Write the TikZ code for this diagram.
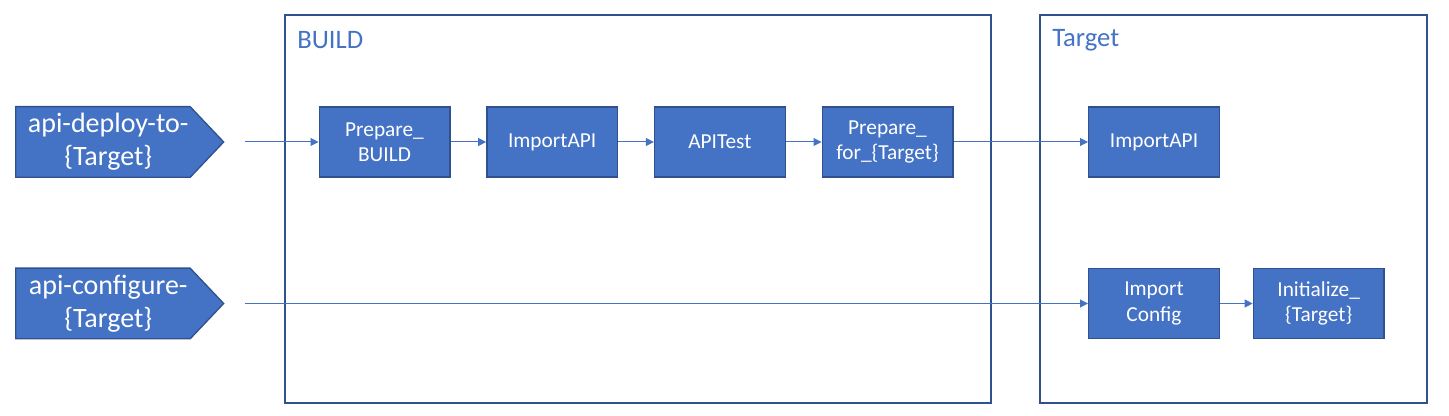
\documentclass[tikz,border=0pt]{standalone}
\usepackage{fontspec}
\setmainfont{Carlito}
\usetikzlibrary{arrows.meta,positioning,shapes.symbols}
\definecolor{boxblue}{HTML}{4472C4}
\definecolor{edgeblue}{HTML}{2F528F}

\begin{document}
\begin{tikzpicture}[x=0.75pt,y=-0.75pt,node distance=26.75pt,
task/.style={draw=edgeblue,fill=boxblue,line width=1pt,text=white,minimum width=98pt,minimum height=52.5pt,align=center,inner sep=0pt,font=\fontsize{16}{19}\selectfont},
trigger/.style={signal,signal to=east,signal pointer angle=93,draw=edgeblue,fill=boxblue,line width=1pt,text=white,minimum width=156pt,minimum height=53pt,align=center,inner sep=0pt,font=\fontsize{21}{24.5}\selectfont},
stage/.style={draw=edgeblue,line width=1.5pt},
title/.style={text=boxblue,anchor=west,inner sep=0pt,font=\fontsize{20}{24}\selectfont},
arrow/.style={-{Triangle[length=6pt,width=6pt]},draw=boxblue,line width=0.75pt}]
\useasboundingbox (0,0) rectangle (1449,416);
\draw[stage] (285,15) rectangle (991,403);
\draw[stage] (1040,15) rectangle (1427,403);
\node[title] (build) at (297,40) {BUILD};
\node[title] (target) at (1052,40) {Target};
\node[trigger,anchor=west] (deploy) at (15,142) {\hspace*{8pt}api-deploy-to-\\\hspace*{8pt}\{Target\}};
\node[trigger,anchor=west] (configure) at (15,303.5) {\hspace*{8pt}api-configure-\\\hspace*{8pt}\{Target\}};
\node[task] (prep) at (384.5,142) {Prepare\_\\BUILD};
\node[task,right=of prep] (imp) {ImportAPI};
\node[task,right=of imp] (test) {APITest};
\node[task,right=of test] (prepfor) {Prepare\_\\for\_\{Target\}};
\node[task] (timp) at (1154,142) {ImportAPI};
\node[task] (tcfg) at (1154,303.5) {Import\\Config};
\node[task,right=24.5pt of tcfg] (tinit) {Initialize\_\\\{Target\}};
\draw[arrow,shorten <=15pt] (deploy.east) -- (prep);
\draw[arrow] (prep) -- (imp);
\draw[arrow] (imp) -- (test);
\draw[arrow] (test) -- (prepfor);
\draw[arrow] (prepfor) -- (timp);
\draw[arrow,shorten <=15pt] (configure.east) -- (tcfg);
\draw[arrow] (tcfg) -- (tinit);
\end{tikzpicture}
\end{document}
